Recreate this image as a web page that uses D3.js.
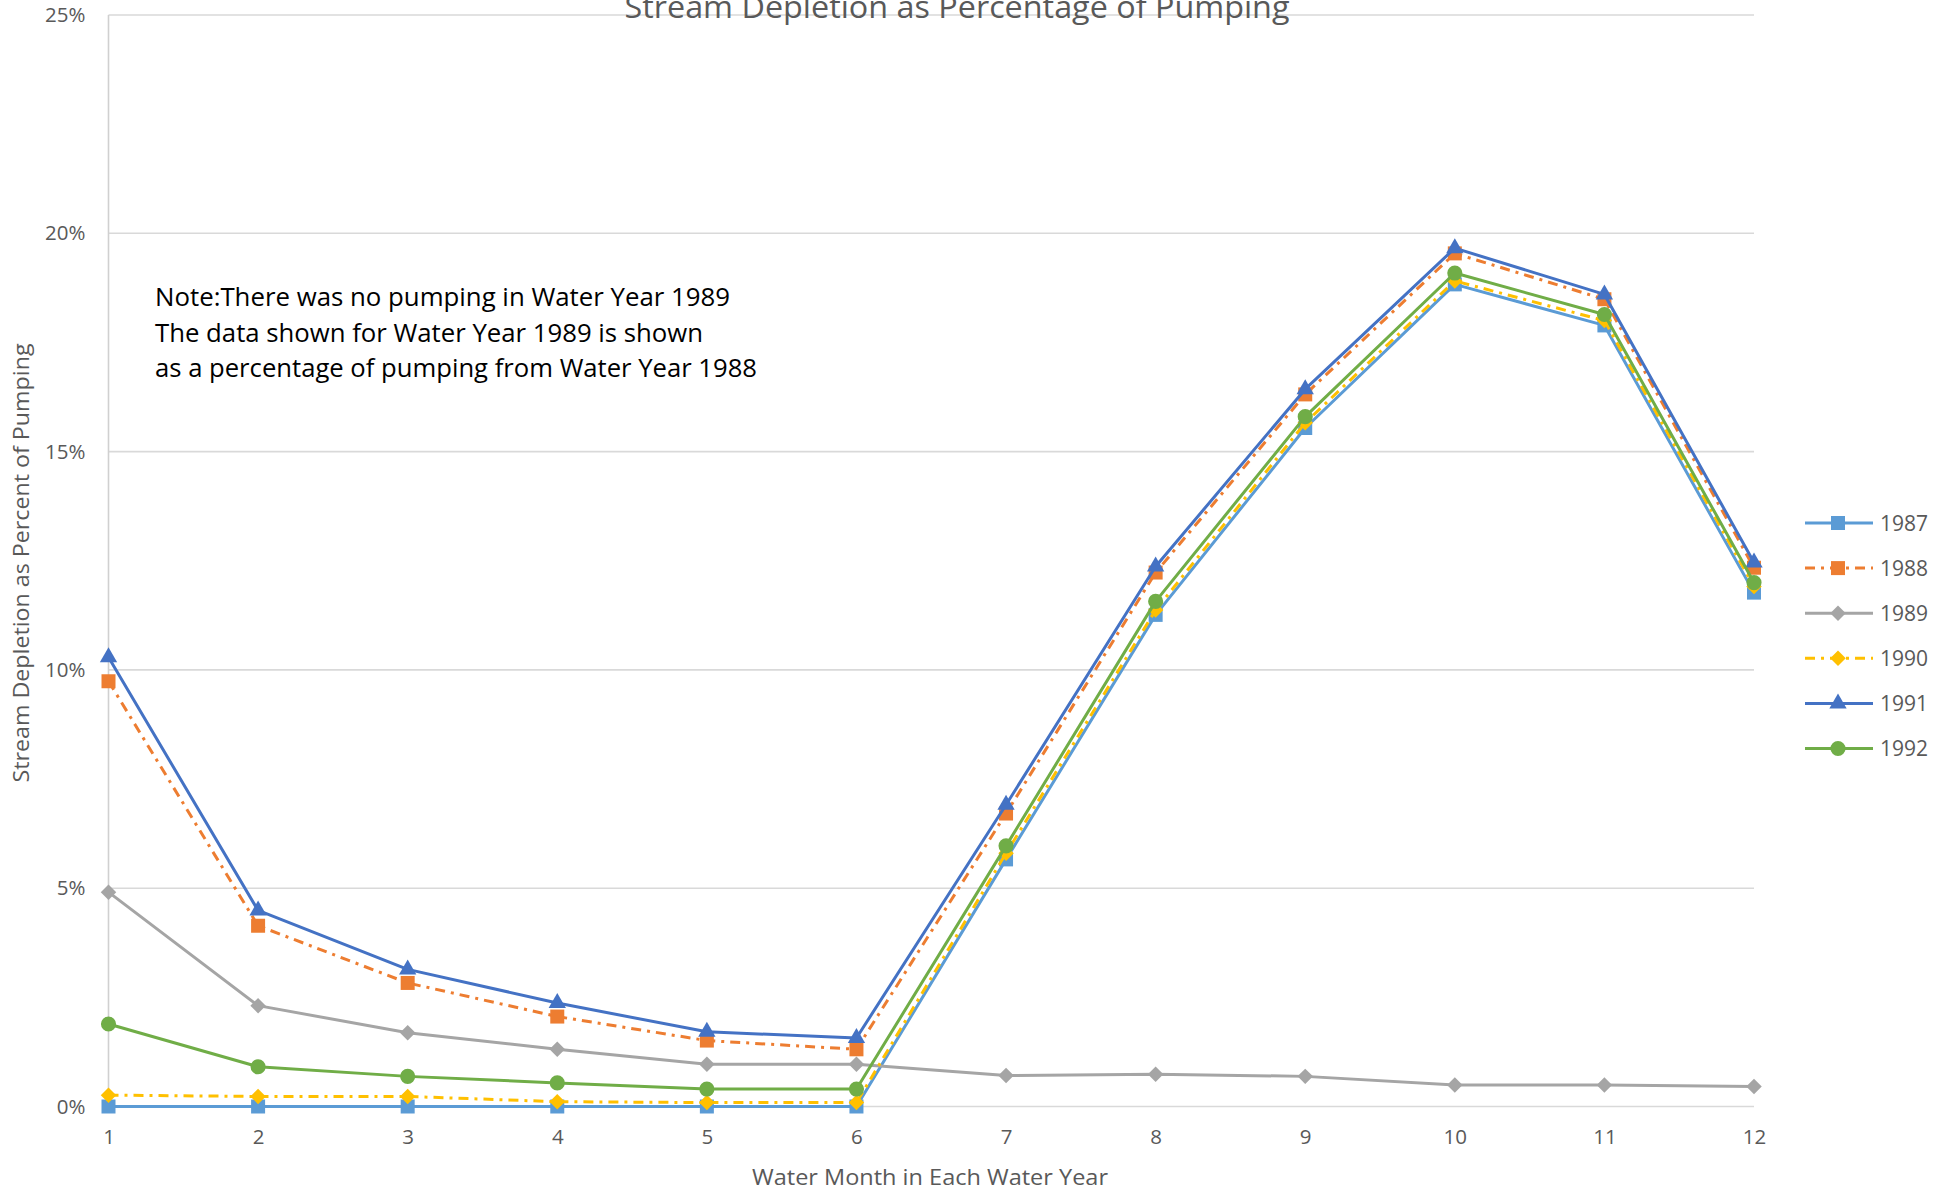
<!DOCTYPE html>
<html>
<head>
<meta charset="utf-8">
<script src="https://cdn.jsdelivr.net/npm/d3@7"></script>
<style>
  html, body { margin: 0; padding: 0; background: #fff; }
  svg { display: block; font-family: "Open Sans", "Noto Sans", sans-serif; }
</style>
</head>
<body>
<svg id="chart" width="1956" height="1192"></svg>
<script>
// Water months along the x axis
const months = [1, 2, 3, 4, 5, 6, 7, 8, 9, 10, 11, 12];

// Stream depletion as a fraction of pumping, one array per water year
const wy1987 = [0.0000, 0.0000, 0.0000, 0.0000, 0.0000, 0.0000, 0.0566, 0.1126, 0.1554, 0.1883, 0.1789, 0.1177];
const wy1988 = [0.0974, 0.0414, 0.0283, 0.0206, 0.0151, 0.0131, 0.0671, 0.1223, 0.1631, 0.1954, 0.1849, 0.1234];
const wy1989 = [0.0491, 0.0231, 0.0169, 0.0131, 0.0097, 0.0097, 0.0071, 0.0074, 0.0069, 0.0049, 0.0049, 0.0046];
const wy1990 = [0.0026, 0.0023, 0.0023, 0.0011, 0.0009, 0.0009, 0.0580, 0.1137, 0.1566, 0.1891, 0.1800, 0.1191];
const wy1991 = [0.1029, 0.0449, 0.0314, 0.0237, 0.0171, 0.0157, 0.0691, 0.1237, 0.1643, 0.1966, 0.1860, 0.1246];
const wy1992 = [0.0189, 0.0091, 0.0069, 0.0054, 0.0040, 0.0040, 0.0597, 0.1157, 0.1580, 0.1909, 0.1814, 0.1200];

const seriesNames = ["1987", "1988", "1989", "1990", "1991", "1992"];
const yTicks = [0, 0.05, 0.10, 0.15, 0.20, 0.25];

const titleText = "Stream Depletion as Percentage of Pumping";
const xTitleText = "Water Month in Each Water Year";
const yTitleText = "Stream Depletion as Percent of Pumping";
const noteLines = [
  "Note:There was no pumping in Water Year 1989",
  "The data shown for Water Year 1989 is shown",
  "as a percentage of pumping from Water Year 1988"
];

// Per-series look: colour, dash pattern, marker shape
const styles = {
  "1987": { color: "#5b9bd5", dash: null, marker: "square" },
  "1988": { color: "#ed7d31", dash: "10,6,3,6", marker: "square" },
  "1989": { color: "#a5a5a5", dash: null, marker: "diamond" },
  "1990": { color: "#ffc000", dash: "10,6,3,6", marker: "diamond" },
  "1991": { color: "#4472c4", dash: null, marker: "triangle" },
  "1992": { color: "#70ad47", dash: null, marker: "circle" }
};

const seriesValues = [wy1987, wy1988, wy1989, wy1990, wy1991, wy1992];
const series = seriesNames.map((name, i) => ({
  name,
  values: months.map((m, j) => ({ m, v: seriesValues[i][j] })),
  ...styles[name]
}));

const svg = d3.select("#chart");
const textGray = "#595959";

const x = d3.scaleLinear().domain([1, 12]).range([108.5, 1754]);
const y = d3.scaleLinear().domain([0, 0.25]).range([1106.5, 15]);

// Horizontal gridlines
svg.append("g")
  .selectAll("line")
  .data(yTicks)
  .join("line")
  .attr("x1", x(1)).attr("x2", x(12))
  .attr("y1", d => y(d)).attr("y2", d => y(d))
  .attr("stroke", "#d9d9d9")
  .attr("stroke-width", 1.6);

// Vertical axis line
svg.append("line")
  .attr("x1", x(1)).attr("x2", x(1))
  .attr("y1", y(0.25)).attr("y2", y(0))
  .attr("stroke", "#d0d0d0")
  .attr("stroke-width", 1.6);

// Y axis ticks
const yAxis = d3.axisLeft(y)
  .tickValues(yTicks)
  .tickFormat(d3.format(".0%"))
  .tickSize(0)
  .tickPadding(0);
const yg = svg.append("g").attr("transform", `translate(${x(1) - 23},0)`).call(yAxis);
yg.select(".domain").remove();
yg.selectAll("text")
  .attr("fill", textGray)
  .style("font-size", "20.5px")
  .style("font-family", "'Open Sans', sans-serif");

// X axis ticks
const xAxis = d3.axisBottom(x)
  .tickValues(months)
  .tickFormat(d3.format("d"))
  .tickSize(0)
  .tickPadding(0);
const xg = svg.append("g").attr("transform", `translate(0,${y(0) + 23})`).call(xAxis);
xg.select(".domain").remove();
xg.selectAll("text")
  .attr("fill", textGray)
  .style("font-size", "20.5px")
  .style("font-family", "'Open Sans', sans-serif");

// Series lines
const line = d3.line().x(d => x(d.m)).y(d => y(d.v));

// Diamonds are squares turned 45 degrees
const symbolFor = {
  square: d3.symbolSquare,
  diamond: d3.symbolSquare,
  triangle: d3.symbolTriangle,
  circle: d3.symbolCircle
};
const sizeFor = { square: 196, diamond: 120, triangle: 130, circle: 180 };
const rotFor = { square: 0, diamond: 45, triangle: 0, circle: 0 };

const plot = svg.append("g");
series.forEach(s => {
  const g = plot.append("g");
  g.append("path")
    .datum(s.values)
    .attr("d", line)
    .attr("fill", "none")
    .attr("stroke", s.color)
    .attr("stroke-width", 3)
    .attr("stroke-linejoin", "round")
    .attr("stroke-dasharray", s.dash);
  g.selectAll("path.mk")
    .data(s.values)
    .join("path")
    .attr("class", "mk")
    .attr("transform", d => `translate(${x(d.m)},${y(d.v)}) rotate(${rotFor[s.marker]})`)
    .attr("d", d3.symbol().type(symbolFor[s.marker]).size(sizeFor[s.marker]))
    .attr("fill", s.color);
});

// Title
svg.append("text")
  .attr("x", 957).attr("y", 18)
  .attr("text-anchor", "middle")
  .attr("fill", textGray)
  .attr("textLength", 665)
  .attr("lengthAdjust", "spacingAndGlyphs")
  .style("font-size", "31px")
  .text(titleText);

// Axis titles
svg.append("text")
  .attr("x", 930).attr("y", 1185)
  .attr("text-anchor", "middle")
  .attr("fill", textGray)
  .attr("textLength", 356)
  .attr("lengthAdjust", "spacingAndGlyphs")
  .style("font-size", "22px")
  .text(xTitleText);

svg.append("text")
  .attr("transform", "translate(29,563) rotate(-90)")
  .attr("text-anchor", "middle")
  .attr("fill", textGray)
  .attr("textLength", 439)
  .attr("lengthAdjust", "spacingAndGlyphs")
  .style("font-size", "22px")
  .text(yTitleText);

// Note block
const noteWidths = [575, 548, 602];
svg.append("g")
  .selectAll("text")
  .data(noteLines)
  .join("text")
  .attr("x", 155)
  .attr("y", (d, i) => 306 + i * 35.5)
  .attr("fill", "#000")
  .attr("textLength", (d, i) => noteWidths[i])
  .attr("lengthAdjust", "spacingAndGlyphs")
  .style("font-size", "25px")
  .text(d => d);

// Legend
const legend = svg.append("g");
series.forEach((s, i) => {
  const ly = 523 + i * 45.1;
  const row = legend.append("g");
  row.append("line")
    .attr("x1", 1805).attr("x2", 1873)
    .attr("y1", ly).attr("y2", ly)
    .attr("stroke", s.color)
    .attr("stroke-width", 3)
    .attr("stroke-dasharray", s.dash);
  row.append("path")
    .attr("transform", `translate(1838,${ly}) rotate(${rotFor[s.marker]})`)
    .attr("d", d3.symbol().type(symbolFor[s.marker]).size(sizeFor[s.marker]))
    .attr("fill", s.color);
  row.append("text")
    .attr("x", 1880).attr("y", ly + 7.5)
    .attr("fill", textGray)
    .style("font-size", "21px")
    .text(s.name);
});
</script>
</body>
</html>
